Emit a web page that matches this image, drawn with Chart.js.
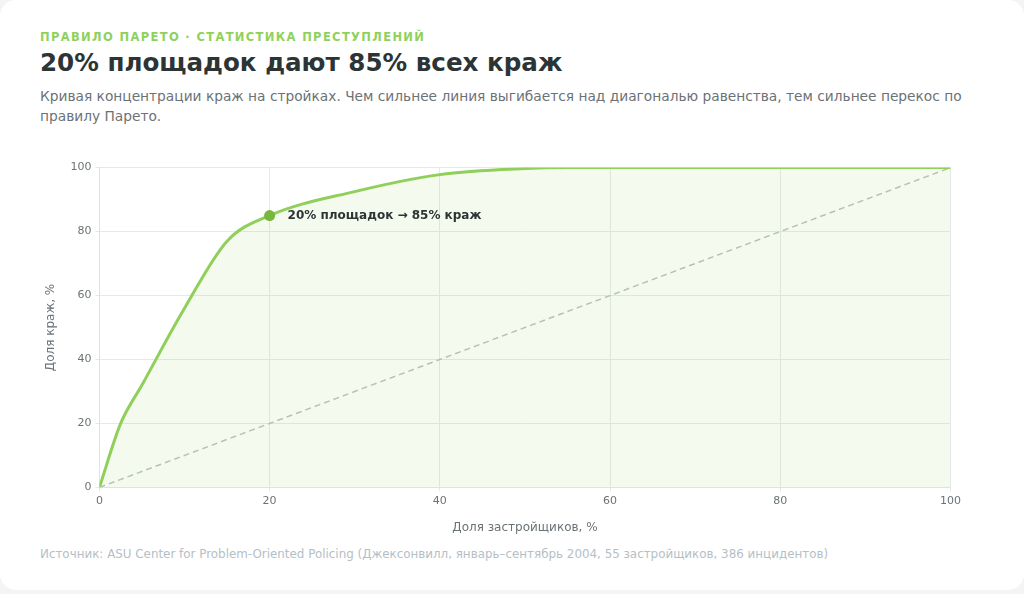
<!DOCTYPE html>
<html lang="ru">
<head>
    <meta charset="UTF-8">
    <title>Правило Парето — кражи на стройках</title>
    <script src="https://cdn.jsdelivr.net/npm/chart.js"></script>
    <style>
        html, body { margin: 0; padding: 0; background: #f3f4f3; }
        body { width: 1024px; height: 594px; overflow: hidden; font-family: "DejaVu Sans", sans-serif; }
        .card {
            position: absolute; left: 0; top: 0; width: 1024px; height: 590px;
            background: #fff; border-radius: 16px;
        }
        .eyebrow {
            position: absolute; left: 40px; top: 30px;
            font-size: 11.5px; font-weight: bold; letter-spacing: 1.35px; color: #8fd15a;
        }
        h1 {
            position: absolute; left: 40px; top: 48px; margin: 0;
            font-size: 24.6px; font-weight: bold; color: #2d3436;
        }
        .sub {
            position: absolute; left: 40px; top: 86px; width: 940px;
            font-size: 13.75px; line-height: 20px; color: #6b7276;
        }
        .wrap { position: absolute; left: 40px; top: 157px; width: 924px; height: 382px; }
        .source {
            position: absolute; left: 40px; top: 547px;
            font-size: 11.9px; color: #b4c0c6;
        }
    </style>
</head>
<body>
<div class="card">
    <div class="eyebrow">ПРАВИЛО ПАРЕТО · СТАТИСТИКА ПРЕСТУПЛЕНИЙ</div>
    <h1>20% площадок дают 85% всех краж</h1>
    <div class="sub">Кривая концентрации краж на стройках. Чем сильнее линия выгибается над диагональю равенства, тем сильнее перекос по правилу Парето.</div>
    <div class="wrap"><canvas id="paretoChart"></canvas></div>
    <div class="source">Источник: ASU Center for Problem-Oriented Policing (Джексонвилл, январь–сентябрь 2004, 55 застройщиков, 386 инцидентов)</div>
</div>

<script>
    // доля застройщиков, % (ось X) и накопленная доля краж, % (ось Y)
    const builderShare = [0, 2.5, 5, 10, 15, 20, 30, 40, 50, 55, 60, 80, 100];
    const theftShare   = [0, 20, 32, 56, 77, 85, 92.5, 97.8, 99.7, 100, 100, 100, 100];

    // диагональ равенства
    const equalityX = [0, 100];
    const equalityY = [0, 100];

    // отмеченная точка
    const markX = 20;
    const markY = 85;
    const markLabel = "20% площадок → 85% краж";

    const tickFont = { family: "DejaVu Sans", size: 11 };

    // подпись рядом с отмеченной точкой
    const markLabelPlugin = {
        id: "markLabel",
        afterDatasetsDraw(chart) {
            const { ctx, scales } = chart;
            const px = scales.x.getPixelForValue(markX);
            const py = scales.y.getPixelForValue(markY);
            ctx.save();
            ctx.font = "bold 12px 'DejaVu Sans'";
            ctx.fillStyle = "#2d3436";
            ctx.textBaseline = "middle";
            ctx.fillText(markLabel, px + 18, py);
            ctx.restore();
        }
    };

    new Chart(document.getElementById("paretoChart"), {
        type: "line",
        data: {
            datasets: [
                {
                    label: "Кривая концентрации",
                    data: builderShare.map((x, i) => ({ x, y: theftShare[i] })),
                    borderColor: "#8fcf5a",
                    backgroundColor: "rgba(143, 207, 90, 0.1)",
                    borderWidth: 3,
                    fill: "origin",
                    pointRadius: 0,
                    cubicInterpolationMode: "monotone",
                    order: 2
                },
                {
                    label: "Равенство",
                    data: equalityX.map((x, i) => ({ x, y: equalityY[i] })),
                    borderColor: "#bcc0c2",
                    borderWidth: 1.5,
                    borderDash: [6, 4],
                    pointRadius: 0,
                    fill: false,
                    order: 3
                },
                {
                    label: "Отметка",
                    data: [{ x: markX, y: markY }],
                    pointRadius: 5.5,
                    pointBackgroundColor: "#76b83c",
                    pointBorderWidth: 0,
                    showLine: false,
                    order: 1
                }
            ]
        },
        options: {
            responsive: true,
            maintainAspectRatio: false,
            animation: false,
            layout: { padding: { top: 4, right: 2 } },
            plugins: {
                legend: { display: false },
                tooltip: { enabled: false }
            },
            scales: {
                x: {
                    type: "linear",
                    min: 0, max: 100,
                    ticks: { stepSize: 20, color: "#6b7276", font: tickFont, padding: 3 },
                    grid: { color: "#e6e9e8", tickLength: 4 },
                    border: { color: "#e0e3e2" },
                    title: { display: true, text: "Доля застройщиков, %", color: "#6b7276", font: { family: "DejaVu Sans", size: 12 }, padding: { top: 10 } }
                },
                y: {
                    min: 0, max: 100,
                    ticks: { stepSize: 20, color: "#6b7276", font: tickFont, padding: 4 },
                    grid: { color: "#e6e9e8", tickLength: 4 },
                    border: { color: "#e0e3e2" },
                    title: { display: true, text: "Доля краж, %", color: "#6b7276", font: { family: "DejaVu Sans", size: 12 }, padding: { bottom: 8 } }
                }
            }
        },
        plugins: [markLabelPlugin]
    });
</script>
</body>
</html>
